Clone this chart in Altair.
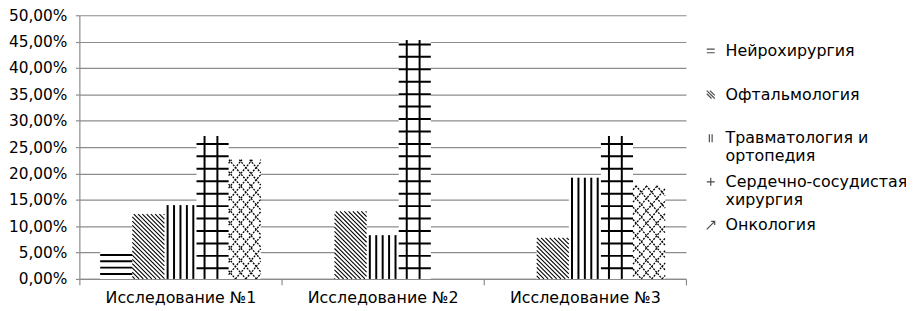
import json
import altair as alt
import numpy as np
import pandas as pd

# ---------------- data ----------------
categories = ["Исследование №1", "Исследование №2", "Исследование №3"]
series = ["Нейрохирургия", "Офтальмология", "Травматология и ортопедия",
          "Сердечно-сосудистая хирургия", "Онкология"]
neurosurgery = [0.052, 0.0, 0.0]
ophthalmology = [0.123, 0.128, 0.078]
traumatology = [0.140, 0.083, 0.192]
cardiovascular = [0.271, 0.453, 0.271]
oncology = [0.226, 0.0, 0.177]
y_tick_values = [0.0, 0.05, 0.10, 0.15, 0.20, 0.25, 0.30, 0.35, 0.40, 0.45, 0.50]
legend_wrap = {"Травматология и ортопедия": ["Травматология и", "ортопедия"],
               "Сердечно-сосудистая хирургия": ["Сердечно-сосудистая", "хирургия"]}

series_values = [neurosurgery, ophthalmology, traumatology, cardiovascular, oncology]

# ---------------- style / layout ----------------
FONT = "DejaVu Sans"
FS = 16
FS_Y = 15.5
PLOT_W, PLOT_H = 612, 266
GRID = "#8c8c8c"
Y_MAX = y_tick_values[-1]
PX_CAT = PLOT_W / len(categories)
PX_Y = PLOT_H / Y_MAX
BAR_W = 32.4
GROUP_PAD = (PX_CAT - len(series) * BAR_W) / 2
patterns = ["hlines", "diag", "vlines", "grid", "lattice"]
legend_shapes = [
    "M-1,-0.45H1M-1,0.45H1",
    "M-1,-1L1,1M-0.2,-1L1,0.2M-1,-0.2L0.2,1",
    "M-0.35,-1V1M0.35,-1V1",
    "M-1,0H1M0,-1V1",
    "M-1,1L1,-1M0.1,-1H1V-0.1",
]

bar_rows = []
segs = []


def add_seg(kind, u0, v0, u1, v1):
    segs.append(dict(kind=kind, x=u0 / PX_CAT, y=v0 / PX_Y,
                     x2=u1 / PX_CAT, y2=v1 / PX_Y))


def diag(kind, left, w, h, spacing, slope, direction):
    k0 = int(np.floor((left - h / slope) / spacing)) - 1
    k1 = int(np.ceil((left + w + h / slope) / spacing)) + 1
    for k in range(k0, k1 + 1):
        c = k * spacing
        if direction > 0:
            u0, u1 = max(left, c), min(left + w, c + h / slope)
            v0, v1 = slope * (u0 - c), slope * (u1 - c)
        else:
            u0, u1 = max(left, c - h / slope), min(left + w, c)
            v0, v1 = slope * (c - u0), slope * (c - u1)
        if u1 - u0 > 0.3:
            add_seg(kind, u0, v0, u1, v1)


for g, cat in enumerate(categories):
    for s, name in enumerate(series):
        v = series_values[s][g]
        left = g * PX_CAT + GROUP_PAD + s * BAR_W
        h = v * PX_Y
        bar_rows.append(dict(category=cat, series=name, value=v,
                             x0=left / PX_CAT, x1=(left + BAR_W) / PX_CAT,
                             xc=(left + BAR_W / 2) / PX_CAT))
        if h <= 0:
            continue
        p = patterns[s]
        if p == "hlines":
            yy = 5.0
            while yy <= h:
                add_seg("thick", left, yy, left + BAR_W, yy)
                yy += 6.4
        elif p == "vlines":
            for f in [0.1, 0.3, 0.5, 0.7, 0.9]:
                add_seg("thick", left + f * BAR_W, 0, left + f * BAR_W, h)
        elif p == "grid":
            yy = 10.7
            while yy <= h:
                add_seg("thick", left, yy, left + BAR_W, yy)
                yy += 12.55
            for f in [0.25, 0.65]:
                add_seg("thick", left + f * BAR_W, 0, left + f * BAR_W, h)
        elif p == "diag":
            diag("thin", left, BAR_W, h, 4.3, 1.0, -1)
        elif p == "lattice":
            diag("dotted", left, BAR_W, h, 10.5, 1.19, -1)
            diag("dotted", left, BAR_W, h, 10.5, 1.19, +1)

bars_df = pd.DataFrame(bar_rows)
segs_df = pd.DataFrame(segs)

x_scale = alt.Scale(domain=[0, len(categories)], nice=False, zero=False)
y_scale = alt.Scale(domain=[0, Y_MAX], nice=False, zero=True)

cats_js = json.dumps(categories, ensure_ascii=False)
x_axis = alt.Axis(
    values=[i * 0.5 for i in range(2 * len(categories) + 1)],
    labelExpr=f"datum.value % 1 == 0.5 ? {cats_js}[floor(datum.value)] : ''",
    title=None, grid=False, domainColor=GRID, domainWidth=1.2,
    tickColor=GRID, tickWidth=1.2, tickSize=6,
    tickOpacity={"condition": {"test": "datum.value % 1 === 0", "value": 1}, "value": 0},
    labelFont=FONT, labelFontSize=FS, labelColor="black", labelPadding=5,
    labelOverlap=False, labelFlush=False, labelBaseline="top",
)
y_axis = alt.Axis(
    values=y_tick_values,
    labelExpr="replace(format(datum.value, '.2%'), '.', ',')",
    title=None, grid=True, gridColor=GRID, gridWidth=1.2,
    domainColor=GRID, domainWidth=1.2, tickColor=GRID, tickWidth=1.2, tickSize=4,
    labelFont=FONT, labelFontSize=FS_Y, labelColor="black", labelPadding=8.5,
    labelOverlap=False, labelFlush=False,
)

bars_layer = alt.Chart(bars_df).mark_rect(fill="white", strokeWidth=0).encode(
    x=alt.X("x0:Q", scale=x_scale, axis=x_axis),
    x2="x1:Q",
    y=alt.Y("value:Q", scale=y_scale, axis=y_axis),
    y2=alt.datum(0),
)


def seg_layer(kind, **mark):
    return alt.Chart(segs_df).transform_filter(
        alt.datum.kind == kind
    ).mark_rule(color="black", **mark).encode(
        x=alt.X("x:Q", scale=x_scale, axis=x_axis),
        x2="x2:Q",
        y=alt.Y("y:Q", scale=y_scale, axis=y_axis),
        y2="y2:Q",
    )


thick_layer = seg_layer("thick", strokeWidth=2)
thin_layer = seg_layer("thin", strokeWidth=1.1)
dotted_layer = seg_layer("dotted", strokeWidth=1.3, strokeDash=[2, 1.2])

wrap_expr = "datum.label"
for k, lines in legend_wrap.items():
    wrap_expr = f"datum.label == {json.dumps(k, ensure_ascii=False)} ? {json.dumps(lines, ensure_ascii=False)} : ({wrap_expr})"

legend_layer = alt.Chart(bars_df).mark_point(size=0, filled=False, color="black", strokeWidth=1.2).encode(
    x=alt.X("xc:Q", scale=x_scale, axis=x_axis),
    y=alt.Y("value:Q", scale=y_scale, axis=y_axis),
    shape=alt.Shape(
        "series:N",
        sort=series,
        scale=alt.Scale(domain=series, range=legend_shapes),
        legend=alt.Legend(
            title=None, orient="none", legendX=629, legendY=28,
            symbolSize=64, symbolStrokeColor="black", symbolStrokeWidth=1.2,
            labelFont=FONT, labelFontSize=FS, labelColor="black",
            labelExpr=wrap_expr, labelLimit=400, labelOffset=7,
            rowPadding=10, padding=0, gridAlign="all",
        ),
    ),
)

chart = alt.layer(
    bars_layer, thick_layer, thin_layer, dotted_layer, legend_layer
).properties(
    width=PLOT_W, height=PLOT_H,
    padding={"left": 72, "top": 6, "right": 222, "bottom": 28},
    autosize=alt.AutoSizeParams(type="none"),
).configure(font=FONT).configure_view(strokeWidth=0)

chart.save("out.html", embed_options={"renderer": "svg", "actions": False})
